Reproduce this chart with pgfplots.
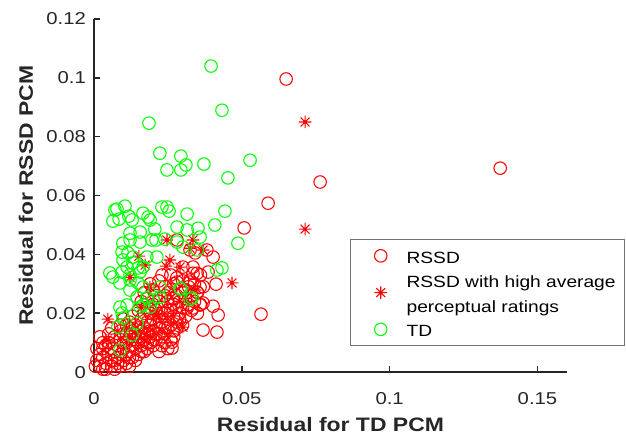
\documentclass[border=0pt]{standalone}
\usepackage{fontspec}
\setmainfont{Liberation Sans}[FakeStretch=1.18]
\usepackage{pgfplots}
\pgfplotsset{compat=1.18}
\usetikzlibrary{calc}

% MATLAB-like asterisk: plus and cross
\pgfdeclareplotmark{ast8}{%
  \pgfpathmoveto{\pgfqpoint{0pt}{\pgfplotmarksize}}\pgfpathlineto{\pgfqpoint{0pt}{-\pgfplotmarksize}}%
  \pgfpathmoveto{\pgfqpoint{\pgfplotmarksize}{0pt}}\pgfpathlineto{\pgfqpoint{-\pgfplotmarksize}{0pt}}%
  \pgfpathmoveto{\pgfqpointpolar{45}{\pgfplotmarksize}}\pgfpathlineto{\pgfqpointpolar{225}{\pgfplotmarksize}}%
  \pgfpathmoveto{\pgfqpointpolar{135}{\pgfplotmarksize}}\pgfpathlineto{\pgfqpointpolar{315}{\pgfplotmarksize}}%
  \pgfusepathqstroke}

\pgfplotsset{
  mk/.style={only marks, line width=0.8pt,
    legend image code/.code={\path (0pt,0pt) (35pt,0pt);
      \draw[##1] plot coordinates {(18pt,0pt)};}},
}

\begin{document}
\begin{tikzpicture}
\begin{axis}[
  name=ax,
  scale only axis, width=355pt, height=265pt,
  xmin=0, xmax=0.16, ymin=0, ymax=0.12,
  clip=false,
  axis lines*=left,
  axis line style={black!85, line width=1.2pt},
  tick style={black!85, line width=1.2pt},
  tick align=inside, major tick length=4.5pt,
  xtick={0,0.05,0.1,0.15}, xticklabels={0,0.05,0.1,0.15},
  ytick={0,0.02,0.04,0.06,0.08,0.1,0.12},
  yticklabels={0,0.02,0.04,0.06,0.08,0.1,0.12},
  /pgf/number format/assume math mode=true,
  ticklabel style={font=\fontsize{12.9}{15}\selectfont, text=black!85},
  xticklabel style={yshift=-11.5pt},
  yticklabel style={xshift=-2.5pt},
  xlabel={Residual for TD PCM},
  ylabel={Residual for RSSD PCM},
  xlabel style={font=\bfseries\fontsize{14.6}{17}\selectfont, text=black!85,
                at={(axis description cs:0.5,-0.1690)}, anchor=base},
  ylabel style={font=\bfseries\fontsize{14.6}{17}\selectfont, text=black!85,
                at={(axis description cs:-0.1289,0.5)}, anchor=base},
  legend style={at={(0.5409,0.3764)}, anchor=north west,
                draw=black!55, line width=0.6pt, fill=white,
                font=\fontsize{12.2}{18.4}\selectfont,
                inner xsep=4.5pt, inner ysep=3pt, row sep=0pt,
                cells={anchor=west, align=left, inner ysep=0pt}},
]

% RSSD
\addplot[mk, mark=o, mark size=4.7pt, red] coordinates {
  (0.0650,0.0996)(0.0765,0.0646)(0.1374,0.0693)(0.0589,0.0574)(0.0508,0.0490)
  (0.0565,0.0197)(0.0413,0.0299)(0.0403,0.0224)(0.0420,0.0194)(0.0369,0.0143)
  (0.0416,0.0136)(0.0359,0.0228)(0.0335,0.0218)(0.0281,0.0184)(0.0264,0.0102)
  (0.0403,0.0391)(0.0386,0.0340)(0.0382,0.0415)(0.0349,0.0336)(0.0335,0.0357)
  (0.0325,0.0313)(0.0359,0.0289)(0.0369,0.0235)(0.0281,0.0449)(0.0325,0.0415)
  (0.0342,0.0405)(0.0301,0.0357)(0.0335,0.0336)(0.0281,0.0306)(0.0325,0.0306)
  (0.0349,0.0272)(0.0267,0.0252)(0.0315,0.0218)(0.0281,0.0150)(0.0264,0.0082)
  (0.001,0.004)(0.002,0.002)(0.003,0.005)(0.003,0.008)(0.004,0.003)
  (0.005,0.006)(0.005,0.010)(0.006,0.002)(0.006,0.004)(0.007,0.007)
  (0.007,0.012)(0.008,0.003)(0.008,0.005)(0.008,0.009)(0.009,0.006)
  (0.009,0.011)(0.010,0.004)(0.010,0.008)(0.010,0.013)(0.011,0.006)
  (0.011,0.010)(0.012,0.007)(0.012,0.012)(0.012,0.015)(0.013,0.005)
  (0.013,0.009)(0.013,0.011)(0.014,0.008)(0.014,0.013)(0.014,0.016)
  (0.015,0.006)(0.015,0.010)(0.015,0.012)(0.016,0.009)(0.016,0.014)
  (0.016,0.018)(0.017,0.007)(0.017,0.011)(0.017,0.015)(0.018,0.010)
  (0.018,0.013)(0.018,0.017)(0.019,0.012)(0.019,0.016)(0.019,0.020)
  (0.020,0.011)(0.020,0.014)(0.020,0.018)(0.021,0.013)(0.021,0.016)
  (0.021,0.021)(0.022,0.015)(0.022,0.019)(0.023,0.012)(0.023,0.017)
  (0.023,0.022)(0.024,0.015)(0.024,0.020)(0.025,0.018)(0.025,0.024)
  (0.026,0.016)(0.026,0.021)(0.027,0.019)(0.027,0.025)(0.028,0.022)
  (0.028,0.017)(0.029,0.024)(0.029,0.020)(0.030,0.027)(0.030,0.022)
  (0.031,0.025)(0.031,0.019)(0.032,0.023)(0.032,0.029)(0.033,0.026)
  (0.034,0.024)(0.034,0.030)(0.035,0.027)(0.036,0.023)(0.036,0.033)
  (0.002,0.006)(0.004,0.009)(0.004,0.001)(0.006,0.008)(0.007,0.004)
  (0.009,0.002)(0.009,0.014)(0.010,0.010)(0.011,0.003)(0.011,0.013)
  (0.012,0.005)(0.013,0.014)(0.014,0.004)(0.014,0.011)(0.015,0.015)
  (0.016,0.007)(0.016,0.012)(0.017,0.013)(0.017,0.020)(0.018,0.008)
  (0.018,0.022)(0.019,0.010)(0.019,0.014)(0.020,0.009)(0.020,0.023)
  (0.021,0.011)(0.022,0.013)(0.022,0.024)(0.023,0.020)(0.024,0.013)
  (0.024,0.026)(0.025,0.015)(0.025,0.021)(0.026,0.028)(0.027,0.014)
  (0.027,0.023)(0.028,0.026)(0.029,0.018)(0.030,0.016)(0.031,0.028)
  (0.033,0.021)(0.035,0.020)(0.037,0.029)
  (0.024,0.010)(0.026,0.011)(0.025,0.008)(0.023,0.009)(0.027,0.012)(0.022,0.007)
  (0.018,0.025)(0.020,0.028)(0.022,0.031)(0.024,0.029)(0.026,0.033)
  (0.021,0.026)(0.025,0.027)(0.027,0.030)(0.023,0.033)(0.019,0.030)
  (0.028,0.032)(0.030,0.031)(0.017,0.027)(0.016,0.024)(0.015,0.021)
  (0.013,0.019)(0.012,0.017)(0.011,0.016)(0.010,0.018)(0.009,0.016)
  (0.002,0.012)(0.003,0.010)(0.001,0.008)(0.005,0.013)(0.006,0.015)
  (0.0005,0.002)(0.003,0.001)(0.007,0.001)(0.012,0.002)
};
\addlegendentry{\strut RSSD}

% RSSD with high average perceptual ratings
\addplot[mk, mark=ast8, mark size=4.7pt, red] coordinates {
  (0.0714,0.0850)(0.0714,0.0486)(0.0467,0.0303)(0.0047,0.0180)(0.0247,0.0449)
  (0.0335,0.0449)(0.0325,0.0421)(0.0369,0.0415)(0.0152,0.0394)(0.0257,0.0381)
  (0.0244,0.0360)(0.0291,0.0357)(0.0173,0.0364)(0.0189,0.0289)(0.0301,0.0153)
  (0.0044,0.0109)(0.0342,0.0279)(0.0122,0.0322)(0.0210,0.0195)(0.0160,0.0220)
};
\addlegendentry{\strut RSSD with high average\\perceptual ratings\strut}

% TD
\addplot[mk, mark=o, mark size=4.7pt, green] coordinates {
  (0.0396,0.1040)(0.0433,0.0890)(0.0186,0.0846)(0.0223,0.0744)(0.0294,0.0734)
  (0.0311,0.0704)(0.0247,0.0687)(0.0294,0.0687)(0.0372,0.0707)(0.0528,0.0720)
  (0.0453,0.0660)
  (0.0085,0.0520)(0.0064,0.0513)(0.0078,0.0554)(0.0105,0.0564)(0.0118,0.0530)
  (0.0129,0.0517)(0.0166,0.0540)(0.0183,0.0527)(0.0190,0.0517)(0.0230,0.0561)
  (0.0247,0.0561)(0.0254,0.0547)(0.0315,0.0537)(0.0443,0.0547)(0.0122,0.0472)
  (0.0156,0.0476)(0.0206,0.0486)(0.0210,0.0449)(0.0240,0.0452)(0.0281,0.0493)
  (0.0315,0.0483)(0.0352,0.0489)(0.0359,0.0459)(0.0409,0.0500)(0.0487,0.0438)
  (0.0098,0.0438)(0.0122,0.0449)(0.0156,0.0442)(0.0196,0.0449)(0.0281,0.0442)
  (0.0301,0.0425)(0.0349,0.0415)(0.0095,0.0408)(0.0098,0.0381)(0.0132,0.0391)
  (0.0179,0.0391)(0.0213,0.0391)(0.0112,0.0357)(0.0149,0.0354)(0.0054,0.0337)
  (0.0064,0.0323)(0.0416,0.0347)(0.0433,0.0354)(0.0088,0.0303)(0.0122,0.0313)
  (0.0149,0.0303)(0.0166,0.0289)(0.0122,0.0279)(0.0146,0.0255)(0.0179,0.0252)
  (0.0200,0.0245)(0.0223,0.0255)(0.0223,0.0289)(0.0291,0.0286)(0.0332,0.0252)
  (0.0088,0.0221)(0.0112,0.0228)(0.0156,0.0221)(0.0190,0.0221)(0.0095,0.0201)
  (0.0146,0.0167)(0.0129,0.0126)(0.0088,0.0075)(0.0081,0.0153)(0.0294,0.0282)
  (0.0325,0.0248)(0.0098,0.0184)(0.0166,0.0228)(0.0071,0.0551)(0.0115,0.0405)
  (0.0132,0.0371)(0.0166,0.0357)(0.0095,0.0340)(0.0122,0.0330)(0.0156,0.0340)
};
\addlegendentry{\strut TD}

\coordinate (sw) at (rel axis cs:0,0);
\coordinate (ne) at (rel axis cs:1,1);
\end{axis}
\pgfresetboundingbox
\path[use as bounding box] ($(sw)+(-70.5pt,-46.5pt)$) rectangle ($(ne)+(44.25pt,14.25pt)$);
\end{tikzpicture}
\end{document}
